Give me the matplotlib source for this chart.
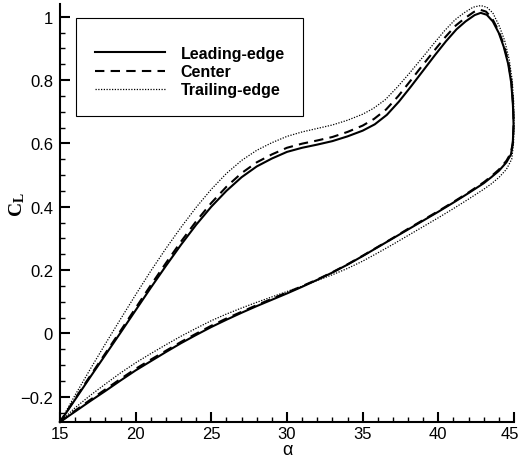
import matplotlib
matplotlib.use("Agg")
import matplotlib.pyplot as plt
from matplotlib.ticker import MultipleLocator
from matplotlib.patches import Rectangle
from matplotlib.transforms import ScaledTranslation

plt.rcParams["font.family"] = ["Liberation Sans", "DejaVu Sans"]
plt.rcParams["mathtext.fontset"] = "custom"
plt.rcParams["mathtext.rm"] = "Liberation Serif"
plt.rcParams["mathtext.it"] = "Liberation Serif:italic"
plt.rcParams["mathtext.bf"] = "Liberation Serif:bold"

# ---- lift coefficient over one pitching cycle, three spanwise stations ----
# upstroke branch (angle increasing)
alpha_up = [15, 16, 17, 18, 19, 20, 21, 22, 23, 24, 25, 26, 27, 28, 29, 30,
            31, 32, 33, 34, 35, 36, 37, 38, 39, 40, 41, 42, 43, 43.5, 44, 44.5]

cl_up_leading = [-0.280, -0.247, -0.214, -0.182, -0.149, -0.117, -0.088, -0.059,
                 -0.031, -0.005, 0.020, 0.043, 0.065, 0.086, 0.106, 0.126,
                 0.147, 0.169, 0.192, 0.217, 0.244, 0.272, 0.300, 0.328,
                 0.356, 0.384, 0.413, 0.443, 0.474, 0.493, 0.513, 0.540]

cl_up_center = [-0.280, -0.244, -0.210, -0.177, -0.144, -0.112, -0.083, -0.055,
                -0.027, -0.001, 0.024, 0.047, 0.068, 0.089, 0.109, 0.129,
                0.149, 0.170, 0.193, 0.218, 0.245, 0.273, 0.301, 0.330,
                0.358, 0.386, 0.415, 0.445, 0.477, 0.496, 0.517, 0.545]

cl_up_trailing = [-0.280, -0.235, -0.196, -0.160, -0.125, -0.093, -0.064, -0.036,
                  -0.009, 0.016, 0.040, 0.061, 0.080, 0.098, 0.115, 0.132,
                  0.149, 0.167, 0.185, 0.205, 0.228, 0.254, 0.281, 0.309,
                  0.337, 0.365, 0.394, 0.424, 0.455, 0.472, 0.492, 0.518]

# stall and downstroke branch (from maximum incidence back to 15 deg)
alpha_dn_leading = [44.80, 44.92, 44.97, 44.93, 44.82, 44.62, 44.32, 44.00, 43.60,
                    43.20, 42.80, 42.40, 41.80, 41.20, 40.50, 39.80, 39.00, 38.20,
                    37.40, 36.60, 35.80, 35, 34, 33, 32, 31, 30, 29, 28, 27, 26,
                    25, 24, 23, 22, 21, 20, 19, 18, 17, 16, 15]
cl_dn_leading = [0.565, 0.600, 0.660, 0.720, 0.790, 0.850, 0.905, 0.948, 0.985,
                 1.006, 1.012, 1.005, 0.985, 0.960, 0.922, 0.880, 0.830, 0.780,
                 0.732, 0.690, 0.660, 0.640, 0.622, 0.607, 0.596, 0.586, 0.573,
                 0.552, 0.527, 0.493, 0.450, 0.400, 0.343, 0.280, 0.213, 0.144,
                 0.073, 0.002, -0.068, -0.138, -0.209, -0.280]

alpha_dn_center = [44.80, 44.93, 44.98, 44.94, 44.83, 44.62, 44.30, 43.95, 43.55,
                   43.15, 42.75, 42.35, 41.75, 41.15, 40.45, 39.75, 38.95, 38.15,
                   37.35, 36.55, 35.75, 35, 34, 33, 32, 31, 30, 29, 28, 27, 26,
                   25, 24, 23, 22, 21, 20, 19, 18, 17, 16, 15]
cl_dn_center = [0.570, 0.605, 0.665, 0.725, 0.795, 0.858, 0.915, 0.958, 0.995,
                1.016, 1.022, 1.015, 0.995, 0.972, 0.935, 0.894, 0.846, 0.797,
                0.749, 0.707, 0.677, 0.656, 0.636, 0.620, 0.609, 0.599, 0.586,
                0.565, 0.540, 0.506, 0.463, 0.412, 0.354, 0.290, 0.222, 0.152,
                0.080, 0.008, -0.063, -0.134, -0.206, -0.280]

alpha_dn_trailing = [44.85, 44.97, 45.00, 44.98, 44.88, 44.68, 44.38, 44.03, 43.60,
                     43.20, 42.80, 42.30, 41.70, 41.10, 40.40, 39.70, 38.90, 38.10,
                     37.30, 36.50, 35.70, 35, 34, 33, 32, 31, 30, 29, 28, 27, 26,
                     25, 24, 23, 22, 21, 20, 19, 18, 17, 16, 15]
cl_dn_trailing = [0.550, 0.600, 0.660, 0.730, 0.800, 0.865, 0.925, 0.970, 1.012,
                  1.030, 1.035, 1.030, 1.012, 0.990, 0.955, 0.915, 0.868, 0.822,
                  0.778, 0.738, 0.710, 0.692, 0.673, 0.658, 0.647, 0.636, 0.622,
                  0.602, 0.578, 0.546, 0.505, 0.455, 0.398, 0.335, 0.268, 0.197,
                  0.122, 0.045, -0.033, -0.113, -0.195, -0.280]

labels = ["Leading-edge", "Center", "Trailing-edge"]
x_ticks = [15, 20, 25, 30, 35, 40, 45]
y_ticks = [-0.2, 0, 0.2, 0.4, 0.6, 0.8, 1]
y_tick_labels = ["\u22120.2", "0", "0.2", "0.4", "0.6", "0.8", "1"]

W, H = 521, 460
fig = plt.figure(figsize=(W / 100, H / 100), dpi=100)
ax = fig.add_axes([60 / W, 1 - 423 / H, (514 - 60) / W, (423 - 5) / H])

series = [
    (alpha_up, cl_up_leading, alpha_dn_leading, cl_dn_leading,
     dict(linestyle="-", linewidth=1.5)),
    (alpha_up, cl_up_center, alpha_dn_center, cl_dn_center,
     dict(linestyle=(0, (4.5, 3)), linewidth=1.5)),
    (alpha_up, cl_up_trailing, alpha_dn_trailing, cl_dn_trailing,
     dict(linestyle=(0, (1, 1.2)), linewidth=0.9)),
]
for (a_up, c_up, a_dn, c_dn, style), lab in zip(series, labels):
    ax.plot(list(a_up) + list(a_dn), list(c_up) + list(c_dn),
            color="black", label=lab, clip_on=False, **style)

ax.set_xlim(15, 45)
ax.set_ylim(-0.28, 1.04)
ax.set_xticks(x_ticks)
ax.set_yticks(y_ticks)
ax.set_xticklabels([str(v) for v in x_ticks])
ax.set_yticklabels(y_tick_labels)
ax.xaxis.set_minor_locator(MultipleLocator(1))
ax.yaxis.set_minor_locator(MultipleLocator(0.05))

for side in ("top", "right"):
    ax.spines[side].set_visible(False)
for side in ("left", "bottom"):
    ax.spines[side].set_linewidth(1.5)

ax.tick_params(which="major", direction="in", length=7, width=1.5,
               labelsize=12, pad=3)
ax.tick_params(axis="y", which="major", pad=5)
ax.tick_params(which="minor", direction="in", length=3.5, width=1.0)

# keep the last x label inside the canvas
last = ax.get_xticklabels()[-1]
last.set_transform(last.get_transform() + ScaledTranslation(-4 / 100, 0, fig.dpi_scale_trans))

ax.set_xlabel("\u03b1", fontsize=13)
ax.xaxis.label.set_va("baseline")
ax.xaxis.set_label_coords(0.5, -(455 - 423) / 418)

ax.set_ylabel(r"$\mathbf{C_L}$", fontsize=14)
ax.yaxis.label.set_va("center")
ax.yaxis.label.set_ha("center")
ax.yaxis.set_label_coords((17 - 60) / 454, (423 - 205) / 418)

# legend with a separately drawn frame
box = Rectangle((76 / W, 1 - 117 / H), (303 - 76) / W, (117 - 19) / H,
                transform=fig.transFigure, fill=False, edgecolor="black",
                linewidth=0.8, zorder=5)
fig.add_artist(box)
leg = ax.legend(loc="upper left", bbox_to_anchor=(95 / W, 1 - 47 / H),
                bbox_transform=fig.transFigure, frameon=False,
                prop={"weight": "bold", "size": 11.5}, handlelength=4.4,
                handletextpad=0.95, labelspacing=0.2, borderpad=0,
                borderaxespad=0)

fig.savefig("out.png", dpi=100)
